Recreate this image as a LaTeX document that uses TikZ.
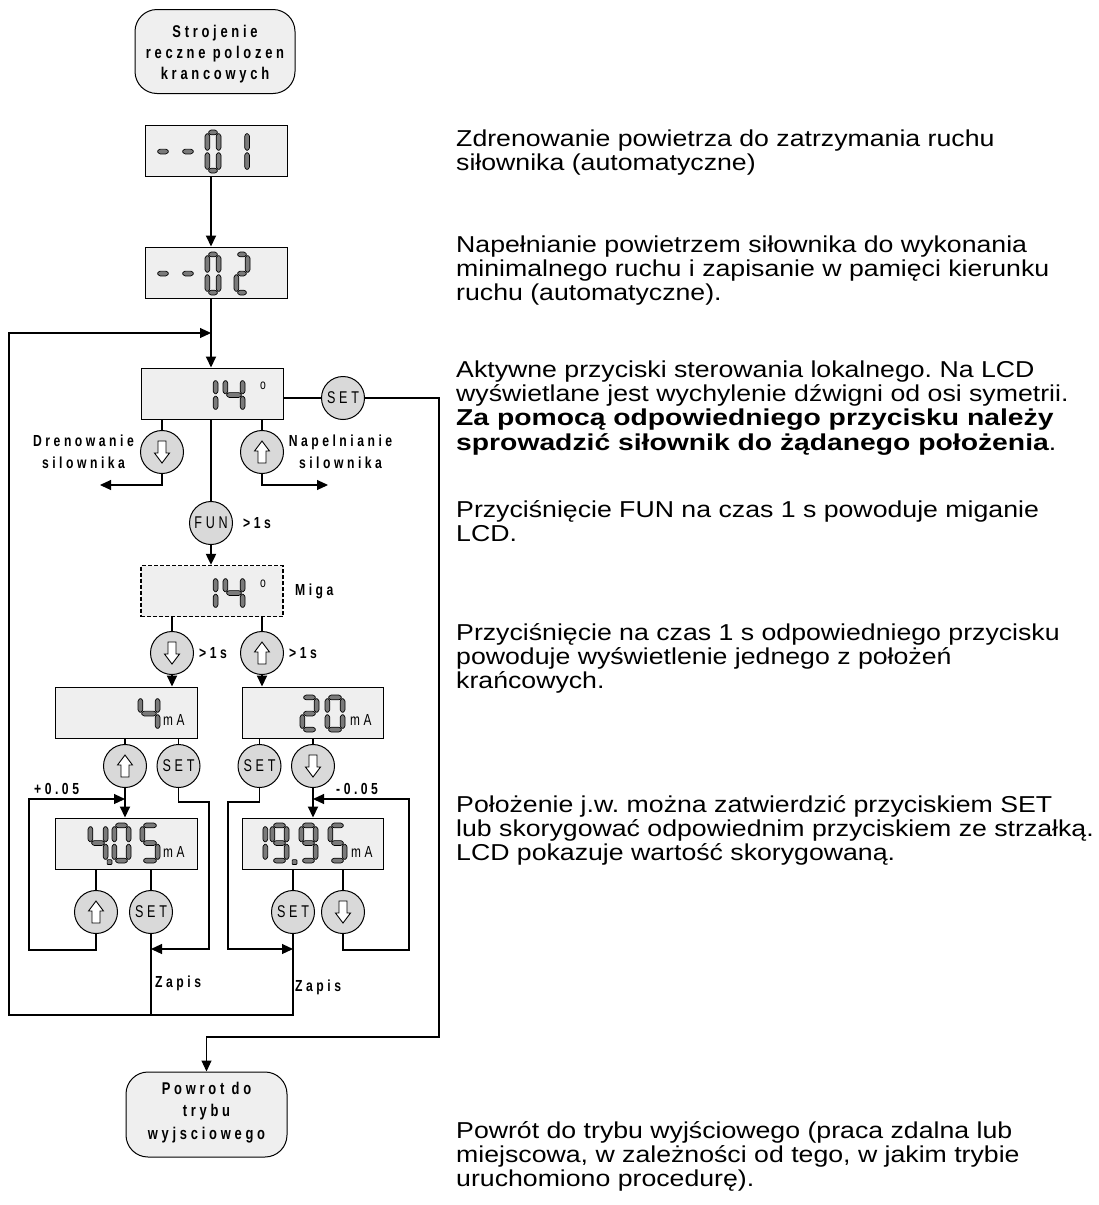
\documentclass[tikz,border=0pt]{standalone}
\usepackage{fontspec}
\setmainfont{Liberation Sans}
\newfontfamily\descfont{Liberation Sans}[FakeStretch=1.16,BoldFeatures={FakeStretch=1.23}]
\newfontfamily\lblfont{Liberation Sans}[FakeStretch=0.76,LetterSpace=22]
\newfontfamily\btnfont{Liberation Sans}[FakeStretch=0.74,LetterSpace=22]
\usetikzlibrary{arrows.meta}
% fixed line pitch for the description paragraphs
\newcommand\fixedpitch{\lineskiplimit=-100pt\relax}

\definecolor{boxfill}{HTML}{EFEFEF}
\definecolor{btnfill}{HTML}{D9D9D9}
\definecolor{seggray}{HTML}{7A7A7A}

% seven-segment digit geometry
\def\dT{2.4}
\def\dG{0.7}
\newcommand\hsegat[1]{\path[segfill] ({\dT+\dG},{#1}) -- ({2*\dT+\dG},{#1-\dT}) -- ({\dW-2*\dT-\dG},{#1-\dT}) -- ({\dW-\dT-\dG},{#1}) -- ({\dW-2*\dT-\dG},{#1+\dT}) -- ({2*\dT+\dG},{#1+\dT}) -- cycle;}
\newcommand\vsegat[3]{\path[segfill] ({#1},{#2+\dG}) -- ({#1+\dT},{#2+\dT+\dG}) -- ({#1+\dT},{#3-\dT-\dG}) -- ({#1},{#3-\dG}) -- ({#1-\dT},{#3-\dT-\dG}) -- ({#1-\dT},{#2+\dT+\dG}) -- cycle;}
\newcommand\sega{\hsegat{\dT}}
\newcommand\segg{\hsegat{\dH/2}}
\newcommand\segd{\hsegat{\dH-\dT}}
\newcommand\segb{\vsegat{\dW-\dT}{\dT}{\dH/2}}
\newcommand\segc{\vsegat{\dW-\dT}{\dH/2}{\dH-\dT}}
\newcommand\sege{\vsegat{\dT}{\dH/2}{\dH-\dT}}
\newcommand\segf{\vsegat{\dT}{\dT}{\dH/2}}
% #1,#2 top-left corner, #3 width, #4 height, #5 lit segments
\newcommand\sdigit[5]{%
  \begin{scope}[shift={(#1,#2)}]
    \pgfmathsetmacro\dW{#3}\pgfmathsetmacro\dH{#4}
    \foreach \s in {#5} {\csname seg\s\endcsname}
  \end{scope}}
\newcommand\sdot[2]{\path[segfill] (#1-2.4,#2-2.4) rectangle (#1+2.4,#2+2.4);}

\tikzset{
  disp/.style={draw, line width=1pt, fill=boxfill, minimum width=142pt, minimum height=51pt, inner sep=0pt},
  term/.style={draw, line width=1pt, fill=boxfill, rounded corners=22pt, minimum width=160pt, minimum height=84pt, inner sep=0pt},
  termtxt/.style={align=center, inner sep=0pt, font=\lblfont\bfseries\fontsize{17}{21}\selectfont},
  btn/.style={circle, draw, line width=1pt, fill=btnfill, minimum size=43pt, inner sep=0pt, font=\btnfont\fontsize{17}{17}\selectfont},
  lbl/.style={font=\lblfont\bfseries\fontsize{16}{22}\selectfont, inner sep=0pt, align=center},
  unit/.style={font=\btnfont\fontsize{16}{16}\selectfont, inner sep=0pt},
  thinln/.style={line width=1.1pt},
  thickln/.style={line width=2pt},
  arr/.style={-{Triangle[length=11pt,width=10pt]}},
  segfill/.style={draw=black, fill=seggray, line width=0.7pt, rounded corners=0.8pt},
  desc/.style={font=\descfont\frenchspacing\fixedpitch\fontsize{23}{24.4}\selectfont, align=left, inner sep=0pt, anchor=base west},
  uparr/.pic={\draw[line width=0.9pt, fill=white] (-4,11) -- (-4,-1) -- (-7.5,-1) -- (0,-11) -- (7.5,-1) -- (4,-1) -- (4,11) -- cycle;},
  dnarr/.pic={\draw[line width=0.9pt, fill=white] (-4,-11) -- (-4,1) -- (-7.5,1) -- (0,11) -- (7.5,1) -- (4,1) -- (4,-11) -- cycle;},
}

\begin{document}
\begin{tikzpicture}[x=1pt,y=-1pt]
\useasboundingbox (0,0) rectangle (1098,1205);

% main column and loop corners
\coordinate (mx) at (211,0);
\coordinate (loopin) at (211,333);
\coordinate (botL) at (9,1015);
\coordinate (rb) at (439,1037);
\coordinate (drenout) at (100,485);
\coordinate (napout) at (328,485);
\coordinate (sl1) at (209,802);
\coordinate (sl1e) at (151,949);
\coordinate (sr1) at (228,802);
\coordinate (sr1e) at (293,949);
\coordinate (pl) at (29,950);
\coordinate (plin) at (125,799);
\coordinate (pr) at (409,950);
\coordinate (prin) at (313,799);

% terminals and displays
\node[term] (start) at (215,51.5) {};
\node[termtxt] (starttxt) at ([yshift=-3pt]start.center) {Strojenie\\reczne polozen\\krancowych};
\node[disp] (d01) at (216,150.5) {};
\node[disp] (d02) at (216,272.5) {};
\node[disp] (d14) at (212,393.5) {};
\node[disp, dash pattern=on 4pt off 2pt, line width=1.3pt] (miga) at (212,591) {};
\node[disp] (ma4) at (126,712.5) {};
\node[disp, minimum width=141pt] (ma20) at (312.5,712.5) {};
\node[disp] (ma405) at (126,843.5) {};
\node[disp, minimum width=141pt] (ma1995) at (312.5,843.5) {};
\node[term, minimum width=161pt, minimum height=85pt] (endb) at (206.5,1114.5) {};
\node[termtxt, font=\lblfont\bfseries\fontsize{17}{22.5}\selectfont] (endtxt) at ([yshift=2pt]endb.center) {Powrot do\\trybu\\wyjsciowego};

% display digits
\sdigit{154}{130}{18}{43}{g}
\sdigit{179}{130}{18}{43}{g}
\sdigit{205}{130}{16}{43}{a,b,c,d,e,f}
\sdigit{233.5}{130}{16}{43}{b,c}
\sdigit{154}{252}{18}{43}{g}
\sdigit{179}{252}{18}{43}{g}
\sdigit{205}{252}{16}{43}{a,b,c,d,e,f}
\sdigit{234}{252}{16}{43}{a,b,g,e,d}
\sdigit{196}{377}{22}{36}{b,c}
\sdigit{223}{377}{22}{36}{f,g,b,c}
\sdigit{196}{575}{22}{36}{b,c}
\sdigit{223}{575}{22}{36}{f,g,b,c}
\sdigit{138}{695}{22}{37}{f,g,b,c}
\sdigit{300}{695}{19}{37}{a,b,g,e,d}
\sdigit{325}{695}{20}{37}{a,b,c,d,e,f}
\sdigit{88}{823}{20}{40}{f,g,b,c}
\sdot{109.5}{862}
\sdigit{112}{823}{19}{40}{a,b,c,d,e,f}
\sdigit{140}{823}{20}{40}{a,f,g,c,d}
\sdigit{248.7}{823}{19}{40}{b,c}
\sdigit{270}{823}{19}{40}{a,b,c,d,f,g}
\sdot{294.5}{862}
\sdigit{299}{823}{19}{40}{a,b,c,d,f,g}
\sdigit{328}{823}{19}{40}{a,f,g,c,d}

\node[unit, font=\btnfont\fontsize{14}{14}\selectfont] (deg1) at (263,386) {o};
\node[unit, font=\btnfont\fontsize{14}{14}\selectfont] (deg2) at (263,584) {o};
\node[unit, anchor=base west] (u4) at (163,725) {mA};
\node[unit, anchor=base west] (u20) at (350,725) {mA};
\node[unit, anchor=base west] (u405) at (163,857) {mA};
\node[unit, anchor=base west] (u1995) at (351,857) {mA};

% buttons
\node[btn] (sett) at (343,398) {SET};
\node[btn] (dren) at (162,452) {};
\node[btn] (nap) at (262,452) {};
\node[btn] (fun) at (211,523) {FUN};
\node[btn] (bd1) at (172,653) {};
\node[btn] (bu1) at (262,653) {};
\node[btn] (up2) at (125,766) {};
\node[btn] (set2) at (178.5,766) {SET};
\node[btn] (set3) at (259.5,766) {SET};
\node[btn] (dn2) at (313,766) {};
\node[btn] (up3) at (96,912) {};
\node[btn] (set4) at (151,912) {SET};
\node[btn] (set5) at (293,912) {SET};
\node[btn] (dn3) at (343,912) {};
\pic at (dren.center) {dnarr};
\pic at (nap.center) {uparr};
\pic at (bd1.center) {dnarr};
\pic at (bu1.center) {uparr};
\pic at (up2.center) {uparr};
\pic at (dn2.center) {dnarr};
\pic at (up3.center) {uparr};
\pic at (dn3.center) {dnarr};

% labels
\node[lbl] (ldren) at (83.5,452) {Drenowanie\\silownika};
\node[lbl] (lnap) at (340.5,452) {Napelnianie\\silownika};
\node[lbl, anchor=west] (lfun) at (243,523) {>1s};
\node[lbl, anchor=west] (lmiga) at (295,591) {Miga};
\node[lbl, anchor=west] (lbd1) at (199,653) {>1s};
\node[lbl, anchor=west] (lbu1) at (289,653) {>1s};
\node[lbl, anchor=west] (lplus) at (34,789) {+0.05};
\node[lbl, anchor=west] (lminus) at (336,789) {-0.05};
\node[lbl, anchor=west] (zap1) at (155,983) {Zapis};
\node[lbl, anchor=west] (zap2) at (295,987) {Zapis};

% main flow
\draw[thickln, arr] (d01.south -| mx) -- (d02.north -| mx);
\draw[thickln, arr] (d02.south -| mx) -- (d14.north -| mx);
\draw[thickln] (d14.south -| mx) -- (fun.north);
\draw[thickln, arr] (fun.south) -- (miga.north -| fun);
\draw[thinln, arr] (set5.south) |- (botL) |- (loopin);
\draw[thickln] (set4.south) -- (set4.south |- botL);

% SET exit to the return terminal
\draw[thinln] (d14.east |- sett) -- (sett.west);
\draw[thinln, arr] (sett.east) -| (rb) -| (endb.north);

% manual drive buttons
\draw[thinln] (d14.south -| dren) -- (dren.north);
\draw[thinln, arr] (dren.south) |- (drenout);
\draw[thinln] (d14.south -| nap) -- (nap.north);
\draw[thinln, arr] (nap.south) |- (napout);

% end-point selection
\draw[thinln] (miga.south -| bd1) -- (bd1.north);
\draw[thinln] (miga.south -| bu1) -- (bu1.north);
\draw[thickln, arr] (bd1.south) -- (ma4.north -| bd1);
\draw[thickln, arr] (bu1.south) -- (ma20.north -| bu1);

\draw[thinln] (ma4.south -| up2) -- (up2.north);
\draw[thinln] (ma4.south -| set2) -- (set2.north);
\draw[thinln] (ma20.south -| set3) -- (set3.north);
\draw[thinln] (ma20.south -| dn2) -- (dn2.north);
\draw[thickln, arr] (up2.south) -- (ma405.north -| up2);
\draw[thickln, arr] (dn2.south) -- (ma1995.north -| dn2);
\draw[thinln, arr] (set2.south) |- (sl1) |- (sl1e);
\draw[thinln, arr] (set3.south) |- (sr1) |- (sr1e);

% correction loops
\draw[thinln] (ma405.south -| up3) -- (up3.north);
\draw[thickln] (ma405.south -| set4) -- (set4.north);
\draw[thinln] (ma1995.south -| set5) -- (set5.north);
\draw[thinln] (ma1995.south -| dn3) -- (dn3.north);
\draw[thinln, arr] (up3.south) |- (pl) |- (plin);
\draw[thinln, arr] (dn3.south) |- (pr) |- (prin);

% descriptions (anchored at the baseline of their last line)
\node[desc] (n1) at (456,170.4) {Zdrenowanie powietrza do zatrzymania ruchu\\siłownika (automatyczne)};
\node[desc] (n2) at (456,300.8) {Napełnianie powietrzem siłownika do wykonania\\minimalnego ruchu i zapisanie w pamięci kierunku\\ruchu (automatyczne).};
\node[desc] (n3) at (456,450.2) {Aktywne przyciski sterowania lokalnego. Na LCD\\wyświetlane jest wychylenie dźwigni od osi symetrii.\\\textbf{Za pomocą odpowiedniego przycisku należy}\\\textbf{sprowadzić siłownik do żądanego położenia}.};
\node[desc] (n4) at (456,541.4) {Przyciśnięcie FUN na czas 1 s powoduje miganie\\LCD.};
\node[desc] (n5) at (456,688.8) {Przyciśnięcie na czas 1 s odpowiedniego przycisku\\powoduje wyświetlenie jednego z położeń\\krańcowych.};
\node[desc] (n6) at (456,860.8) {Położenie j.w. można zatwierdzić przyciskiem SET\\lub skorygować odpowiednim przyciskiem ze strzałką.\\LCD pokazuje wartość skorygowaną.};
\node[desc] (n7) at (456,1186.8) {Powrót do trybu wyjściowego (praca zdalna lub\\miejscowa, w zależności od tego, w jakim trybie\\uruchomiono procedurę).};
\end{tikzpicture}
\end{document}
